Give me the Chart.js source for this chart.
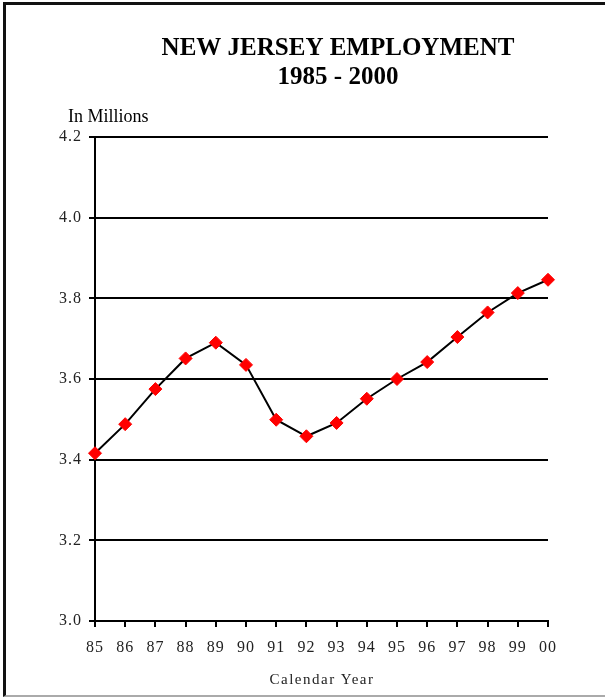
<!DOCTYPE html>
<html>
<head>
<meta charset="utf-8">
<script src="https://cdn.jsdelivr.net/npm/chart.js@4"></script>
<style>
  html, body { margin: 0; padding: 0; background: #fff; }
  #wrap { position: relative; width: 605px; height: 698px; }
  #frame {
    position: absolute; left: 3px; top: 2px; right: 0; bottom: 1px;
    border-left: 3px solid #111; border-top: 3px solid #111; border-bottom: 2px solid #aaa;
    pointer-events: none;
  }
</style>
</head>
<body>
<div id="wrap">
  <canvas id="chart" width="605" height="698"></canvas>
  <div id="frame"></div>
</div>
<script>
const years = ['85', '86', '87', '88', '89', '90', '91', '92', '93', '94', '95', '96', '97', '98', '99', '00'];
const employment = [3.416, 3.488, 3.575, 3.651, 3.690, 3.635, 3.499, 3.458, 3.491, 3.551, 3.600, 3.642, 3.704, 3.765, 3.813, 3.846];
const yTicks = [3.0, 3.2, 3.4, 3.6, 3.8, 4.0, 4.2];

const serif = '"Liberation Serif", "Times New Roman", serif';

// titles and labels drawn straight on the canvas
const labelsPlugin = {
  id: 'labels',
  beforeDraw(chart) {
    chart.ctx.letterSpacing = '1px';
  },
  afterDraw(chart) {
    const ctx = chart.ctx;
    ctx.save();
    ctx.fillStyle = '#000';
    ctx.letterSpacing = '0px';
    ctx.textAlign = 'center';
    ctx.textBaseline = 'alphabetic';
    ctx.font = 'bold 25px ' + serif;
    ctx.fillText('NEW JERSEY EMPLOYMENT', 338, 55);
    ctx.fillText('1985 - 2000', 338, 84);
    ctx.textAlign = 'left';
    ctx.font = '18px ' + serif;
    ctx.fillText('In Millions', 68, 122);
    ctx.letterSpacing = '1.5px';
    ctx.textAlign = 'center';
    ctx.font = '15px ' + serif;
    ctx.fillStyle = '#222';
    ctx.fillText('Calendar Year', 322, 684);
    ctx.restore();
  }
};

new Chart(document.getElementById('chart'), {
  type: 'line',
  data: {
    labels: years,
    datasets: [{
      data: employment,
      borderColor: '#000',
      borderWidth: 2,
      tension: 0,
      pointStyle: 'rectRot',
      pointRadius: 6.5,
      pointHoverRadius: 6.5,
      pointBackgroundColor: '#ff0000',
      pointBorderColor: '#ff0000',
      pointBorderWidth: 1
    }]
  },
  options: {
    responsive: false,
    animation: false,
    events: [],
    layout: { padding: { top: 137, right: 57, left: 0, bottom: 0 } },
    plugins: {
      legend: { display: false },
      title: { display: false },
      tooltip: { enabled: false }
    },
    scales: {
      x: {
        type: 'category',
        offset: false,
        grid: { drawOnChartArea: false, drawTicks: true, tickLength: 6, color: '#000', lineWidth: 2 },
        border: { color: '#000', width: 2 },
        ticks: { color: '#222', font: { family: serif, size: 16 }, padding: 11, maxRotation: 0, autoSkip: false },
        afterFit(scale) { scale.height = 77; }
      },
      y: {
        min: 3.0,
        max: 4.2,
        afterBuildTicks(scale) { scale.ticks = yTicks.map(v => ({ value: v })); },
        grid: { color: '#000', lineWidth: 2, tickLength: 6 },
        border: { color: '#000', width: 2 },
        ticks: {
          color: '#222',
          font: { family: serif, size: 16 },
          padding: 7,
          callback: v => v.toFixed(1)
        },
        afterFit(scale) { scale.width = 95; }
      }
    }
  },
  plugins: [labelsPlugin]
});
</script>
</body>
</html>
